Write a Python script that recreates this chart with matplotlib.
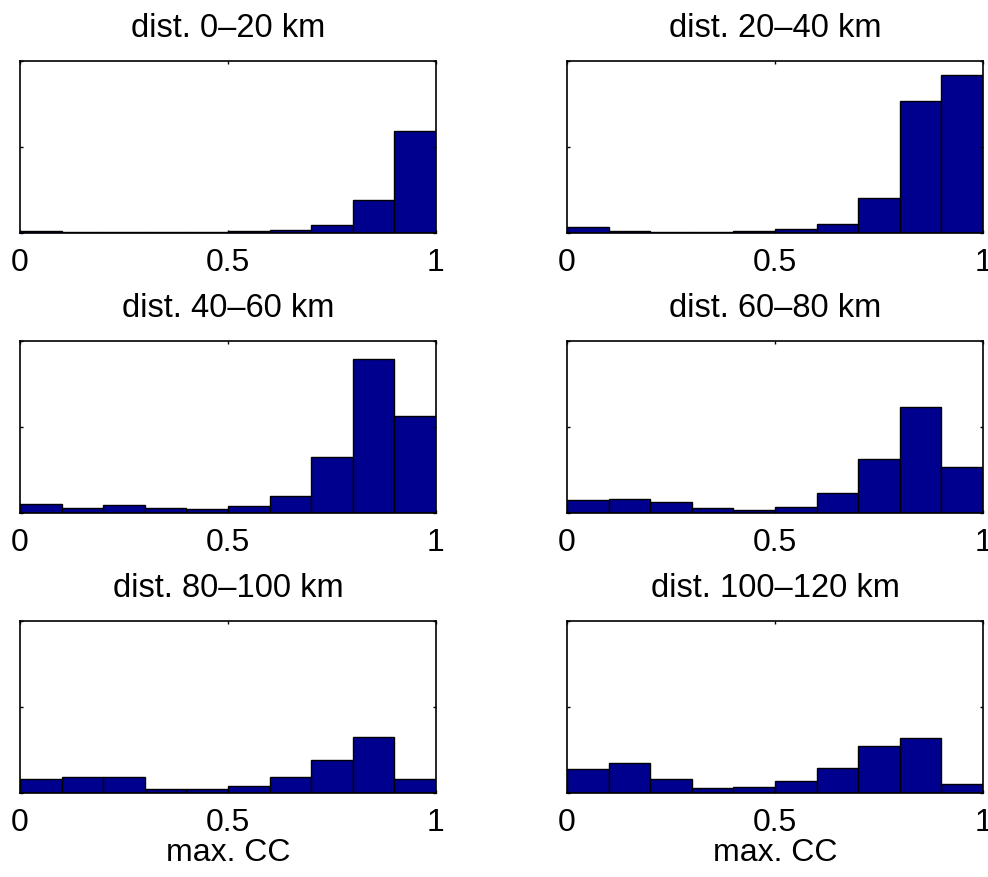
import numpy as np
from matplotlib import pyplot

pyplot.rcParams['font.family'] = ['Liberation Sans', 'DejaVu Sans']

# bin edges of max. CC histogram
BIN_LEFT = [0.0, 0.1, 0.2, 0.3, 0.4, 0.5, 0.6, 0.7, 0.8, 0.9]
BIN_WIDTH = 0.1

TITLES = ["dist. 0\u201320 km", "dist. 20\u201340 km", "dist. 40\u201360 km",
          "dist. 60\u201380 km", "dist. 80\u2013100 km", "dist. 100\u2013120 km"]

# bar heights (fraction of y-axis range)
H_0_20 = [0.012, 0.004, 0.004, 0.004, 0.006, 0.010, 0.020, 0.047, 0.195, 0.596]
H_20_40 = [0.035, 0.014, 0.008, 0.008, 0.014, 0.021, 0.054, 0.202, 0.768, 0.920]
H_40_60 = [0.050, 0.031, 0.045, 0.029, 0.021, 0.041, 0.101, 0.329, 0.899, 0.564]
H_60_80 = [0.074, 0.081, 0.066, 0.031, 0.019, 0.037, 0.116, 0.314, 0.618, 0.266]
H_80_100 = [0.081, 0.093, 0.091, 0.025, 0.023, 0.041, 0.095, 0.194, 0.328, 0.081]
H_100_120 = [0.138, 0.172, 0.083, 0.031, 0.035, 0.070, 0.147, 0.275, 0.318, 0.054]
HEIGHTS = [H_0_20, H_20_40, H_40_60, H_60_80, H_80_100, H_100_120]

COL_LEFT = [0.0202, 0.574]
ROW_BOTTOM = [0.7335, 0.4146, 0.0957]
AX_W, AX_H = 0.421, 0.1955

fig = pyplot.figure(figsize=(9.88, 8.78), dpi=100)
for i, (title, heights) in enumerate(zip(TITLES, HEIGHTS)):
    row, col = divmod(i, 2)
    ax = fig.add_axes([COL_LEFT[col], ROW_BOTTOM[row], AX_W, AX_H])
    ax.bar(BIN_LEFT, heights, width=BIN_WIDTH, align="edge",
           color="#00008F", edgecolor="black", linewidth=1.0)
    ax.set_xlim(0, 1)
    ax.set_ylim(0, 1)
    ax.set_xticks([0, 0.5, 1])
    ax.set_xticklabels(["0", "0.5", "1"])
    ax.set_yticks([0, 0.5, 1])
    ax.set_yticklabels([])
    ax.tick_params(direction="in", top=True, right=True, length=2.5,
                   width=1.0, labelsize=23, pad=10)
    for spine in ax.spines.values():
        spine.set_linewidth(1.2)
    ax.set_title(title, fontsize=23.5, pad=18)
    if row == 2:
        ax.set_xlabel("max. CC", fontsize=23, labelpad=0)

fig.savefig("out.png", dpi=100)
